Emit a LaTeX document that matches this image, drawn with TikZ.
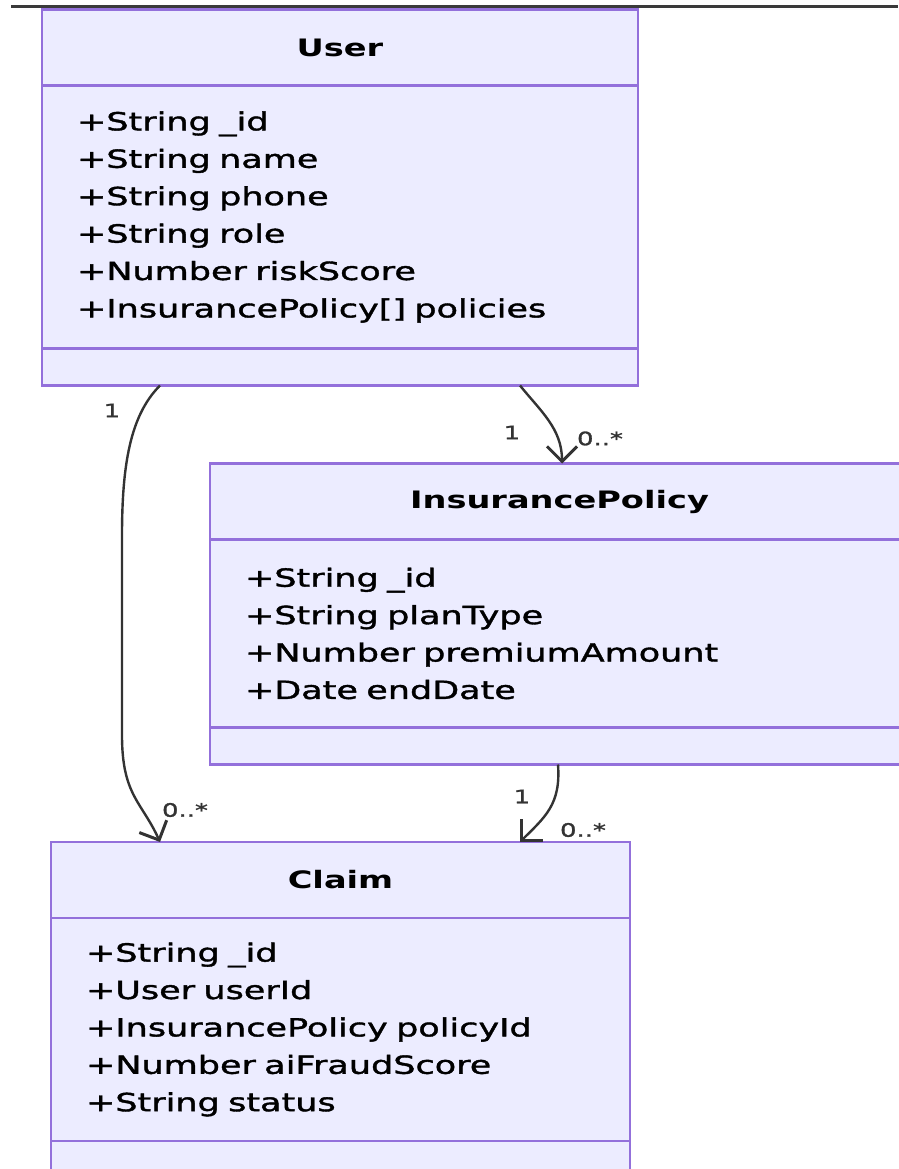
\documentclass[tikz,border=0pt]{standalone}
\usepackage{fontspec}
\setmainfont{DejaVu Sans}[FakeStretch=1.4]
\newfontfamily\memberfont{DejaVu Sans}[FakeStretch=1.4, FakeBold=1.5]
\usepackage{tikz}
\usetikzlibrary{arrows.meta,positioning}
\definecolor{boxfill}{HTML}{ECECFF}
\definecolor{boxline}{HTML}{9370DB}
\definecolor{edge}{HTML}{333333}
\definecolor{topline}{HTML}{3A3A3A}

\begin{document}
\begin{tikzpicture}[
    x=1pt, y=-1pt,
    >={Straight Barb[length=15pt,width=30pt,line width=3pt]},
    classbox/.style={
		rectangle,
		draw=boxline,
		fill=boxfill,
		line width=2.2pt,
		inner sep=0pt,
		outer sep=0pt
	},
    classhead/.style={
		classbox,
		font=\fontsize{24}{28}\selectfont\bfseries,
		minimum height=76pt
	},
    members/.style={
		classbox,
		font=\memberfont\fontsize{25}{37.4}\selectfont,
		align=left,
		inner xsep=35pt
	},
    methods/.style={
		classbox,
		minimum height=37pt
	},
    assoc/.style={
		draw=edge,
		line width=2.4pt,
		->
	},
    mult/.style={
		font=\memberfont\fontsize{18.5}{18.5}\selectfont,
		text=edge,
		inner sep=0pt
	}
  ]
  \useasboundingbox (0,0) rectangle (898,1169);
  \draw [line width=3pt, draw=topline] (11,7) -- (898,7);

    % We start by placing the blocks

  \node [classhead, minimum width=596pt] (user) at (340,47.5) {User};
  \node [members, text width=526pt, minimum height=263pt, below=0pt of user] (userAttr)
 {%
  +String \_id\\
  +String name\\
  +String phone\\
  +String role\\
  +Number riskScore\\
  +InsurancePolicy[] policies
 };
  \node [methods, minimum width=596pt, below=0pt of userAttr] (userOps) {};

  \node [classhead, minimum width=699pt] (policy) at (559.5,501.5) {InsurancePolicy};
  \node [members, text width=629pt, minimum height=188pt, below=0pt of policy] (policyAttr)
 {%
  +String \_id\\
  +String planType\\
  +Number premiumAmount\\
  +Date endDate
 };
  \node [methods, minimum width=699pt, below=0pt of policyAttr] (policyOps) {};

  \node [classhead, minimum width=579pt] (claim) at (340.5,880) {Claim};
  \node [members, text width=509pt, minimum height=223pt, below=0pt of claim] (claimAttr)
 {%
  +String \_id\\
  +User userId\\
  +InsurancePolicy policyId\\
  +Number aiFraudScore\\
  +String status
 };
  \node [methods, minimum width=579pt, below=0pt of claimAttr] (claimOps) {};

 \draw [assoc] ([xshift=118pt]userOps.south west) .. controls +(-30,30) and +(0,-70) ..
   node [mult, pos=0, xshift=-48pt, yshift=-25pt] {1}
   ++(-38,150) -- ++(0,200) .. controls +(0,60) and +(-18,-40) ..
   node [mult, pos=1, xshift=25pt, yshift=32pt] {0..*}
   ([xshift=109pt]claim.north west);
 \draw [assoc] ([xshift=478pt]userOps.south west) .. controls +(20,25) and +(0,-35) ..
   node [mult, pos=0, xshift=-8pt, yshift=-47pt] {1}
   node [mult, pos=1, xshift=38pt, yshift=25pt] {0..*}
   ([xshift=352pt]policy.north west);
 \draw [assoc] ([xshift=348pt]policyOps.south west) .. controls +(3,40) and +(25,-25) ..
   node [mult, pos=0, xshift=-36pt, yshift=-32pt] {1}
   node [mult, pos=1, xshift=63pt, yshift=12pt] {0..*}
   ([xshift=469pt]claim.north west);

\end{tikzpicture}
\end{document}
